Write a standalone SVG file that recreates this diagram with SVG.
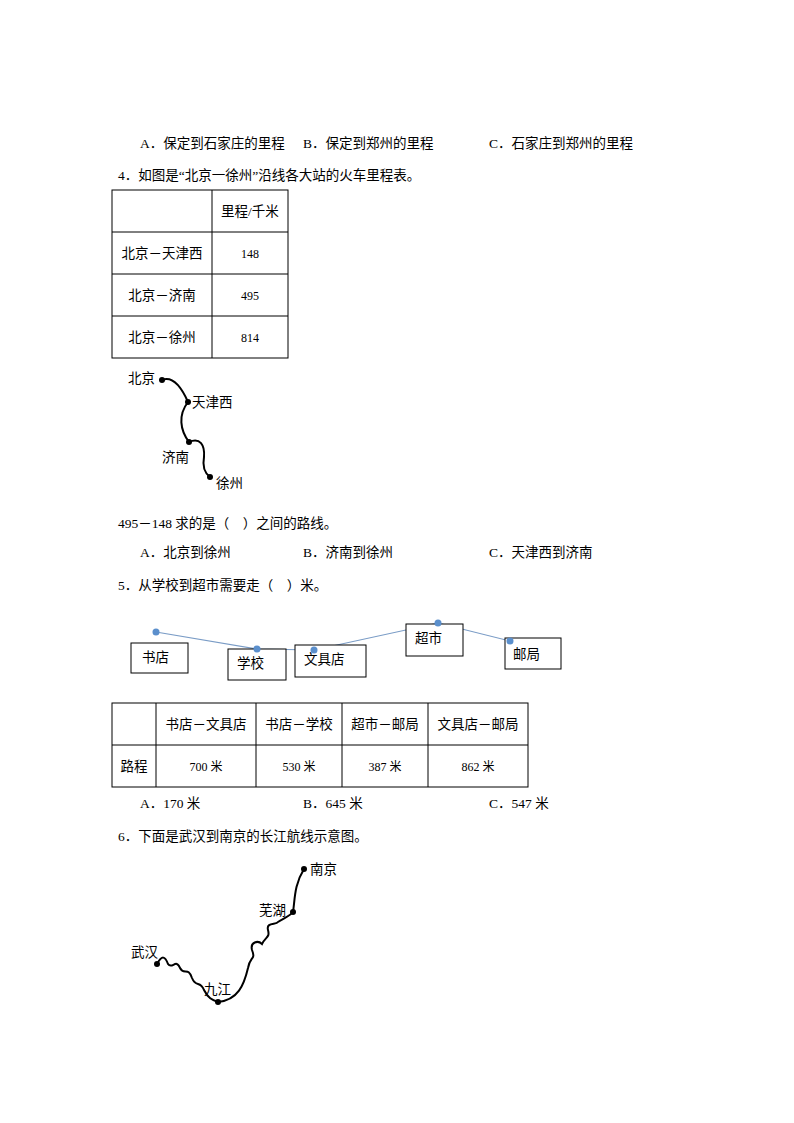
<svg xmlns="http://www.w3.org/2000/svg" width="794" height="1123" viewBox="0 0 794 1123">
<style>
text{font-family:"Liberation Serif","Noto Sans CJK SC",serif;font-size:13.5px;fill:#000}
.s{font-size:12px}
.c{text-anchor:middle}
.t{fill:none;stroke:#000;stroke-width:1}
.r{fill:none;stroke:#000;stroke-width:2}
.bl{fill:none;stroke:#7a9cc6;stroke-width:1.2}
.bd{fill:#5b8fcc}
.box{fill:#fff;stroke:#000;stroke-width:1}
</style>
<rect width="794" height="1123" fill="#fff"/>
<text x="140" y="148">A．保定到石家庄的里程</text>
<text x="303" y="148">B．保定到郑州的里程</text>
<text x="489" y="148">C．石家庄到郑州的里程</text>
<text x="118" y="180">4．如图是“北京一徐州”沿线各大站的火车里程表。</text>
<g id="table1" class="t">
<rect x="112" y="190" width="176" height="168"/>
<line x1="212" y1="190" x2="212" y2="358"/>
<line x1="112" y1="232" x2="288" y2="232"/>
<line x1="112" y1="274" x2="288" y2="274"/>
<line x1="112" y1="316" x2="288" y2="316"/>
</g>
<text x="250" y="216" class="c">里程/千米</text>
<text x="162" y="258" class="c">北京－天津西</text>
<text x="250" y="258" class="c s">148</text>
<text x="162" y="300" class="c">北京－济南</text>
<text x="250" y="300" class="c s">495</text>
<text x="162" y="342" class="c">北京－徐州</text>
<text x="250" y="342" class="c s">814</text>
<g id="connectors">
<path class="r" d="M162,380 C172,376 180,384 188,402 C178,415 180,430 189,442 C200,437 205,445 204,457 C202,468 206,474 210,477"/>
<path class="bl" d="M156,632 L257,649 L314,650 L438,623 L510,641"/>
<path class="r" d="M157,964 C162,955 165,956 168,964 C172,970 176,958 180,968 C184,976 188,966 192,978 C196,988 200,980 204,990 C208,998 212,1000 218,1002 C238,1000 244,985 248,968 C250,956 256,960 252,950 C250,942 258,940 262,944 C266,936 270,938 268,930 C266,922 276,925 278,922 C284,918 290,916 293,912 C295,900 294,885 304,869"/>
</g>
<g id="map1">
<circle cx="162" cy="380" r="3"/><circle cx="188" cy="402" r="3"/><circle cx="189" cy="442" r="3"/><circle cx="210" cy="477" r="3"/>
<text x="128" y="383">北京</text><text x="192" y="407">天津西</text><text x="162" y="462">济南</text><text x="216" y="488">徐州</text>
</g>
<text x="118" y="528">495－148 求的是（&#160;&#160;&#160;&#160;）之间的路线。</text>
<text x="140" y="557">A．北京到徐州</text>
<text x="303" y="557">B．济南到徐州</text>
<text x="489" y="557">C．天津西到济南</text>
<text x="118" y="590">5．从学校到超市需要走（&#160;&#160;&#160;&#160;）米。</text>
<g id="n-shudian"><rect class="box" x="131" y="643" width="57" height="30"/><text x="142" y="662">书店</text></g>
<g id="n-xuexiao"><rect class="box" x="228" y="649" width="58" height="31"/><text x="237" y="668">学校</text></g>
<g id="n-wenjudian"><rect class="box" x="295" y="645" width="71" height="32"/><text x="304" y="664">文具店</text></g>
<g id="n-chaoshi"><rect class="box" x="406" y="624" width="57" height="32"/><text x="415" y="643">超市</text></g>
<g id="n-youju"><rect class="box" x="505" y="638" width="56" height="31"/><text x="513" y="659">邮局</text></g>
<g id="dots" class="bd">
<circle cx="156" cy="632" r="3.5"/><circle cx="257" cy="649" r="3.5"/><circle cx="314" cy="650" r="3.5"/><circle cx="438" cy="623" r="3.5"/><circle cx="510" cy="641" r="3.5"/>
</g>
<g id="table2" class="t">
<rect x="112" y="703" width="416" height="84"/>
<line x1="156" y1="703" x2="156" y2="787"/>
<line x1="256" y1="703" x2="256" y2="787"/>
<line x1="342" y1="703" x2="342" y2="787"/>
<line x1="428" y1="703" x2="428" y2="787"/>
<line x1="112" y1="745" x2="528" y2="745"/>
</g>
<text x="206" y="729" class="c">书店－文具店</text>
<text x="299" y="729" class="c">书店－学校</text>
<text x="385" y="729" class="c">超市－邮局</text>
<text x="478" y="729" class="c">文具店－邮局</text>
<text x="134" y="771" class="c">路程</text>
<text x="206" y="771" class="c s">700 米</text>
<text x="299" y="771" class="c s">530 米</text>
<text x="385" y="771" class="c s">387 米</text>
<text x="478" y="771" class="c s">862 米</text>
<text x="140" y="808">A．170 米</text>
<text x="303" y="808">B．645 米</text>
<text x="489" y="808">C．547 米</text>
<text x="118" y="841">6．下面是武汉到南京的长江航线示意图。</text>
<g id="map2">
<circle cx="304" cy="869" r="3"/><circle cx="293" cy="912" r="3"/><circle cx="157" cy="964" r="3"/><circle cx="218" cy="1002" r="3"/>
<text x="310" y="874">南京</text><text x="259" y="915">芜湖</text><text x="131" y="957">武汉</text><text x="204" y="994">九江</text>
</g>
</svg>
